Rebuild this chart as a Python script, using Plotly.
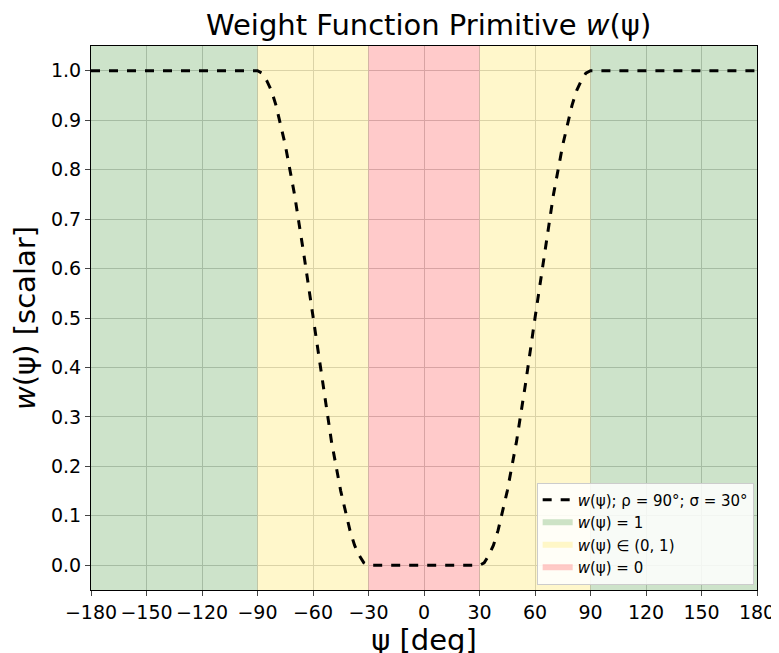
import plotly.graph_objects as go

psi = [-180, -90, -87.5, -85, -82.5, -80, -75, -70, -65, -60, -55, -50, -45, -40, -37.5, -35, -32.5, -30,
       30, 32.5, 35, 37.5, 40, 45, 50, 55, 60, 65, 70, 75, 80, 82.5, 85, 87.5, 90, 180]
w = [1.0, 1.0, 0.995, 0.98, 0.96, 0.93, 0.85, 0.75, 0.63, 0.5, 0.37, 0.25, 0.15, 0.07, 0.04, 0.02, 0.005, 0.0,
     0.0, 0.005, 0.02, 0.04, 0.07, 0.15, 0.25, 0.37, 0.5, 0.63, 0.75, 0.85, 0.93, 0.96, 0.98, 0.995, 1.0, 1.0]

# shaded regions: (x0, x1) pairs per label
regions = [
    ("<i>w</i>(ψ) = 1", "rgba(155,200,150,0.5)", [(-180, -90), (90, 180)]),
    ("<i>w</i>(ψ) ∈ (0, 1)", "rgba(255,240,160,0.55)", [(-90, -30), (30, 90)]),
    ("<i>w</i>(ψ) = 0", "rgba(255,150,150,0.5)", [(-30, 30)]),
]

fig = go.Figure()
for i, (name, color, spans) in enumerate(regions):
    xs, ys = [], []
    for a, b in spans:
        xs += [a, b, b, a, a, None]
        ys += [-0.05, -0.05, 1.05, 1.05, -0.05, None]
    fig.add_trace(go.Scatter(x=xs, y=ys, fill="toself", fillcolor=color, mode="none", name=name,
                             legendrank=i + 2))
fig.add_trace(go.Scatter(x=psi, y=w, mode="lines", line=dict(color="black", width=3, dash="dash"),
                         name="<i>w</i>(ψ); ρ = 90°; σ = 30°", legendrank=1))

fig.update_layout(
    width=779, height=653, plot_bgcolor="white", paper_bgcolor="white",
    margin=dict(l=83, r=26, t=38, b=71),
    font=dict(family="DejaVu Sans", size=19, color="black"),
    title=dict(text="Weight Function Primitive <i>w</i>(ψ)", x=0.54, y=0.99, yanchor="top", font=dict(size=29)),
    legend=dict(x=0.995, y=0.01, xanchor="right", yanchor="bottom", bgcolor="rgba(255,255,255,0.85)",
                bordercolor="#ccc", borderwidth=1, font=dict(size=15)),
)
fig.update_xaxes(range=[-180, 180], dtick=30, showgrid=True, gridcolor="#b0b0b0", ticks="outside",
                 showline=True, linecolor="black", mirror=True, zeroline=False,
                 title=dict(text="ψ [deg]", font=dict(size=29), standoff=0))
fig.update_yaxes(range=[-0.05, 1.05], dtick=0.1, tickformat=".1f", showgrid=True, gridcolor="#b0b0b0",
                 ticks="outside", showline=True, linecolor="black", mirror=True, zeroline=False,
                 title=dict(text="<i>w</i>(ψ) [scalar]", font=dict(size=29), standoff=6))
fig.write_html("out.html")
